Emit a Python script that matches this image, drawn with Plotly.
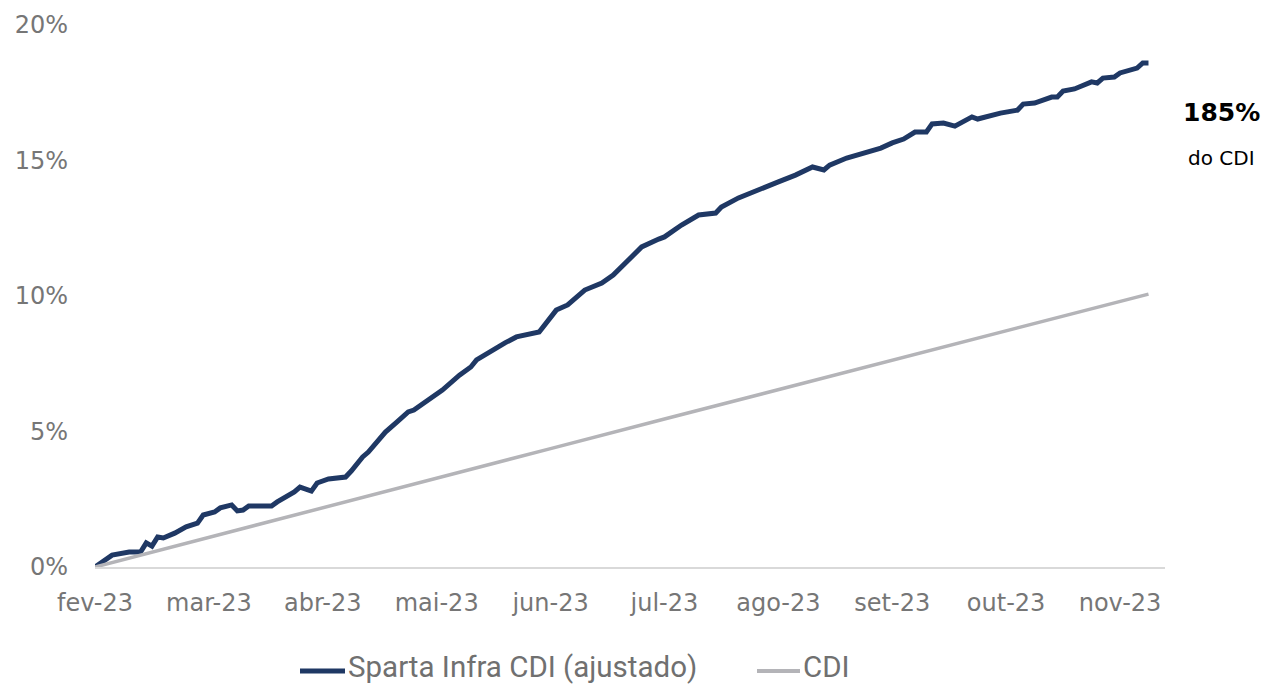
import plotly.graph_objects as go

# Trading-day index (label every 20 days) and cumulative return (%)
fund_x = [0, 3, 6, 8, 9, 10, 11, 12, 14, 16, 18, 19, 21, 22, 24, 25, 26, 27, 31, 32,
          35, 36, 38, 39, 41, 44, 45, 47, 48, 50, 51, 53, 55, 56, 58, 61, 64, 66, 67, 70,
          72, 74, 78, 81, 83, 86, 89, 91, 94, 96, 99, 100, 103, 106, 109, 110, 113, 115, 119, 120,
          123, 126, 128, 129, 132, 136, 138, 140, 142, 144, 146, 147, 149, 151, 152, 154, 155, 159, 162, 163,
          165, 168, 169, 170, 172, 175, 176, 177, 179, 180, 183, 184, 185]
fund_y = [0.00, 0.44, 0.55, 0.55, 0.89, 0.77, 1.11, 1.07, 1.25, 1.48, 1.62, 1.92, 2.03, 2.18, 2.29, 2.07, 2.10, 2.25, 2.25, 2.40,
          2.77, 2.95, 2.80, 3.10, 3.25, 3.32, 3.54, 4.06, 4.24, 4.69, 4.98, 5.35, 5.72, 5.79, 6.09, 6.53, 7.08, 7.38, 7.64, 8.04,
          8.27, 8.49, 8.67, 9.48, 9.67, 10.22, 10.48, 10.77, 11.40, 11.81, 12.10, 12.18, 12.62, 12.99, 13.06, 13.28, 13.62, 13.80, 14.17, 14.21,
          14.46, 14.76, 14.65, 14.83, 15.09, 15.31, 15.46, 15.65, 15.79, 16.05, 16.05, 16.35, 16.38, 16.27, 16.38, 16.61, 16.53, 16.75, 16.86, 17.08,
          17.12, 17.34, 17.34, 17.56, 17.64, 17.90, 17.86, 18.04, 18.08, 18.23, 18.41, 18.60, 18.60]

cdi_x = [0, 20, 40, 60, 80, 100, 120, 140, 160, 180, 185]
cdi_y = [0.00, 1.10, 2.19, 3.28, 4.37, 5.46, 6.54, 7.62, 8.71, 9.80, 10.07]

tick_pos = [0, 20, 40, 60, 80, 100, 120, 140, 160, 180]
tick_labels = ["fev-23", "mar-23", "abr-23", "mai-23", "jun-23", "jul-23",
               "ago-23", "set-23", "out-23", "nov-23"]
y_ticks = [0, 5, 10, 15, 20]
y_labels = ["0%", "5%", "10%", "15%", "20%"]

series_names = ["Sparta Infra CDI (ajustado)", "CDI"]

NAVY = "#1f3864"
GREY = "#b4b4b8"
TXT = "#767676"
FONT = "DejaVu Sans"

fig = go.Figure()
fig.add_trace(go.Scatter(x=fund_x, y=fund_y, mode="lines", name=series_names[0],
                         line=dict(color=NAVY, width=5)))
fig.add_trace(go.Scatter(x=cdi_x, y=cdi_y, mode="lines", name=series_names[1],
                         line=dict(color=GREY, width=3.5)))

PW, PH = 1070, 542  # plot area in px
W, H = 1264, 686

fig.update_layout(
    width=W, height=H,
    margin=dict(l=95, r=W - 1165, t=25, b=H - 567, autoexpand=False),
    plot_bgcolor="white", paper_bgcolor="white",
    font=dict(family=FONT, color=TXT, size=22),
    xaxis=dict(range=[0, 187.9], tickvals=tick_pos, ticktext=tick_labels,
               showgrid=False, zeroline=False, showline=True, linecolor="#d9d9d9", linewidth=1.5,
               ticks="", ticklabelstandoff=13, tickfont=dict(family=FONT, size=24, color=TXT)),
    yaxis=dict(range=[0, 20], tickvals=y_ticks, ticktext=y_labels,
               showgrid=False, zeroline=False, showline=False,
               ticks="", ticklabelstandoff=26, tickfont=dict(family=FONT, size=24, color=TXT)),
    showlegend=False,
)

# Manual legend (lines touching text, as in the reference)
line_y = (567 - 671) / PH
text_y = (567 - 667) / PH
legend_items = [(300, 345, NAVY, 5, series_names[0]), (757, 800, GREY, 4, series_names[1])]
for x0, x1, col, w, label in legend_items:
    fig.add_shape(type="line", xref="paper", yref="paper",
                  x0=(x0 - 95) / PW, x1=(x1 - 95) / PW, y0=line_y, y1=line_y,
                  line=dict(color=col, width=w))
    fig.add_annotation(x=(x1 + 1 - 95) / PW, y=text_y, xref="paper", yref="paper",
                       xanchor="left", yanchor="middle", text=label, showarrow=False,
                       font=dict(family="Roboto", size=29.5, color="#707070"))

fig.add_annotation(x=(1221 - 95) / PW, y=(567 - 112) / PH, xref="paper", yref="paper",
                   xanchor="center", yanchor="middle",
                   text="<b>185%</b>", showarrow=False,
                   font=dict(family=FONT, size=25, color="black"))
fig.add_annotation(x=(1221 - 95) / PW, y=(567 - 158) / PH, xref="paper", yref="paper",
                   xanchor="center", yanchor="middle",
                   text="do CDI", showarrow=False,
                   font=dict(family=FONT, size=20, color="black"))

fig.write_html("out.html", config={"displayModeBar": False},
               post_script="document.body.style.margin='0';document.body.style.overflow='hidden';")
